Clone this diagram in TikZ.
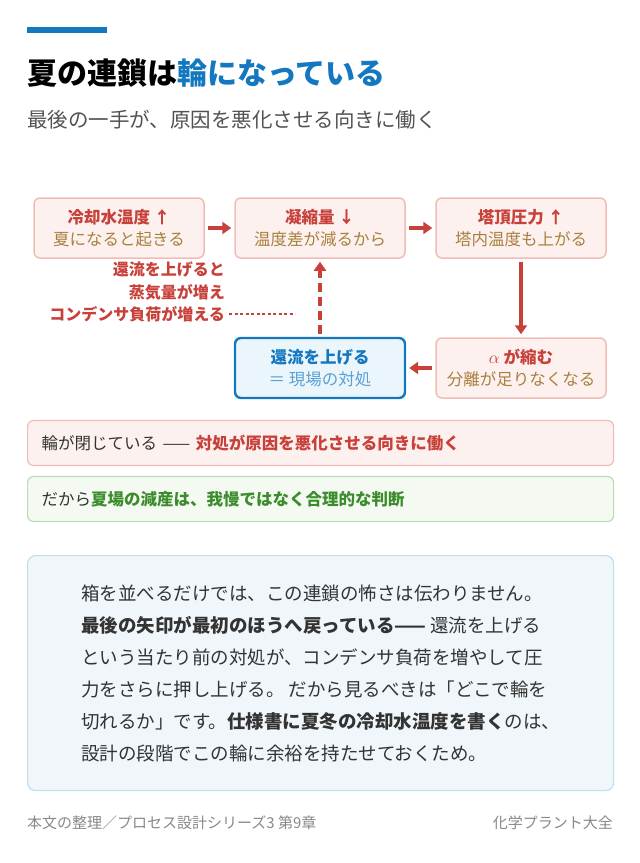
\documentclass[tikz,border=0pt]{standalone}
\usepackage{fontspec}
\setmainfont{Noto Sans CJK JP}
\usetikzlibrary{positioning,arrows.meta}
\definecolor{accent}{HTML}{C8403A}
\definecolor{boxfill}{HTML}{FDF1EF}
\definecolor{boxline}{HTML}{F0BDB6}
\definecolor{subtxt}{HTML}{A8803E}
\definecolor{blueacc}{HTML}{1478C0}
\definecolor{bluefill}{HTML}{EBF5FC}
\definecolor{greenacc}{HTML}{3C8C2E}
\definecolor{greenline}{HTML}{BCDDB2}
\definecolor{greenfill}{HTML}{F4FAF1}
\definecolor{notefill}{HTML}{F1F6FA}
\definecolor{noteline}{HTML}{BEDFF2}
\definecolor{bodytxt}{HTML}{333333}
\definecolor{greytxt}{HTML}{888888}
\tikzset{
  link/.style={draw=boxline, fill=boxfill, line width=1.5pt, rounded corners=6pt,
    minimum width=170pt, minimum height=60pt, align=center, font=\fontsize{16.5}{22}\selectfont},
  cure/.style={link, draw=blueacc, fill=bluefill, line width=2.4pt},
  flow/.style={-{Triangle[length=9pt,width=12pt]}, accent, line width=3.5pt, shorten >=3pt, shorten <=3pt},
  band/.style={rounded corners=6pt, line width=1.2pt, minimum width=586pt, minimum height=45pt,
    anchor=west, inner sep=14pt, font=\fontsize{16.5}{20}\selectfont, text width=558pt}
}
\begin{document}
\begin{tikzpicture}[x=1pt,y=-1pt]
\useasboundingbox (0,0) rectangle (640,863);
\fill[blueacc] (27,27) rectangle (107,33);
\node[anchor=west, inner sep=0, font=\fontsize{30}{34}\selectfont\bfseries] (title) at (27,73)
  {夏の連鎖は\textcolor{blueacc}{輪になっている}};
\node[anchor=west, inner sep=0, text=bodytxt!85, font=\fontsize{20.5}{24}\selectfont] (subtitle) at (27,120)
  {最後の一手が、原因を悪化させる向きに働く};

% the loop
\node[link] (cool) at (119,228) {\textcolor{accent}{\bfseries 冷却水温度 ↑}\\\textcolor{subtxt}{夏になると起きる}};
\node[link] (cond) at (320,228) {\textcolor{accent}{\bfseries 凝縮量 ↓}\\\textcolor{subtxt}{温度差が減るから}};
\node[link] (press) at (521,228) {\textcolor{accent}{\bfseries 塔頂圧力 ↑}\\\textcolor{subtxt}{塔内温度も上がる}};
\node[link] (alpha) at (521,368) {\textcolor{accent}{\bfseries $\alpha$ が縮む}\\\textcolor{subtxt}{分離が足りなくなる}};
\node[cure] (reflux) at (320,368) {\textcolor{blueacc}{\bfseries 還流を上げる}\\\textcolor{blueacc!70}{＝ 現場の対処}};

\draw[flow] (cool) -- (cond);
\draw[flow] (cond) -- (press);
\draw[flow] (press) -- (alpha);
\draw[flow] (alpha) -- (reflux);
\draw[flow, dash pattern=on 9pt off 5pt] (reflux) -- (cond);

\node[align=right, anchor=east, inner sep=0, text=accent, font=\fontsize{16}{22.5}\selectfont\bfseries] (why) at (225,292)
  {還流を上げると\\蒸気量が増え\\コンデンサ負荷が増える};
\coordinate (tip) at (295,314);
\draw[accent, dash pattern=on 3pt off 2.5pt, line width=1.3pt] (229,314) -- (tip);

% bands
\node[band, draw=boxline, fill=boxfill] (closed) at (27,443)
  {\textcolor{bodytxt}{輪が閉じている ——} \textcolor{accent}{\bfseries 対処が原因を悪化させる向きに働く}};
\node[band, draw=greenline, fill=greenfill] (verdict) at (27,499)
  {\textcolor{bodytxt}{だから}\textcolor{greenacc}{\bfseries 夏場の減産は、我慢ではなく合理的な判断}};

% note
\node[draw=noteline, fill=notefill, line width=1.2pt, rounded corners=8pt, anchor=north west,
  minimum width=586pt, minimum height=235pt, inner xsep=20pt, inner ysep=0pt, align=left,
  text=bodytxt, font=\fontsize{18.5}{32}\selectfont] (note) at (27,555)
  {箱を並べるだけでは、この連鎖の怖さは伝わりません。\\
  \textbf{最後の矢印が最初のほうへ戻っている——} 還流を上げる\\
  という当たり前の対処が、コンデンサ負荷を増やして圧\\
  力をさらに押し上げる。 だから見るべきは「どこで輪を\\
  切れるか」です。\textbf{仕様書に夏冬の冷却水温度を書く}のは、\\
  設計の段階でこの輪に余裕を持たせておくため。};

\node[anchor=west, inner sep=0, text=greytxt, font=\fontsize{15}{17}\selectfont] (src) at (27,823)
  {本文の整理／プロセス設計シリーズ3 第9章};
\node[anchor=east, inner sep=0, text=greytxt, font=\fontsize{15}{17}\selectfont] (brand) at (613,823)
  {化学プラント大全};
\end{tikzpicture}
\end{document}
